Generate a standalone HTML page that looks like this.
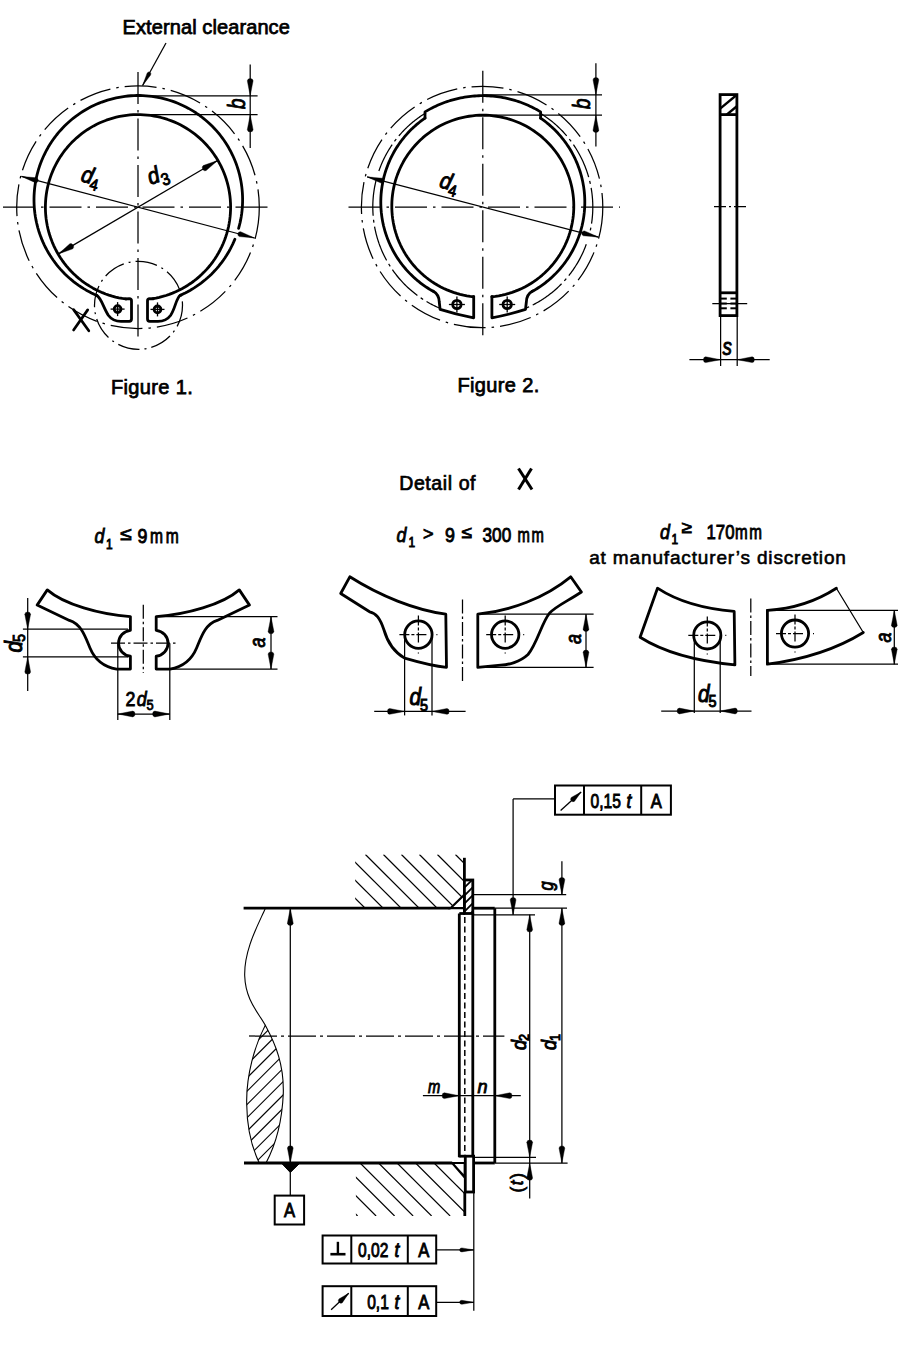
<!DOCTYPE html>
<html><head><meta charset="utf-8"><style>
html,body{margin:0;padding:0;background:#fff;width:919px;height:1350px;overflow:hidden}
svg{display:block}
</style></head><body>
<svg width="919" height="1350" viewBox="0 0 919 1350" stroke="#000" fill="none">
<line x1="3" y1="207.2" x2="272" y2="207.2" stroke-width="1.25" stroke-dasharray="32 6 2.5 6" stroke-linecap="butt"/>
<line x1="138" y1="72" x2="138" y2="337" stroke-width="1.25" stroke-dasharray="32 6 2.5 6" stroke-linecap="butt"/>
<circle cx="138" cy="207.2" r="121.3" stroke-width="1.25" fill="none" stroke-dasharray="32 6 2.5 6"/>
<circle cx="138.5" cy="305.3" r="44" stroke-width="1.25" fill="none" stroke-dasharray="22 5 2 5"/>
<path d="M125.75 298.99 L122.32 298.46 L118.92 297.81 L115.54 297.03 L112.19 296.13 L108.88 295.1 L105.6 293.95 L102.38 292.67 L99.2 291.28 L96.08 289.77 L93.02 288.14 L90.02 286.4 L87.09 284.55 L84.23 282.59 L81.44 280.52 L78.73 278.35 L76.11 276.08 L73.57 273.71 L71.13 271.25 L68.78 268.71 L66.52 266.07 L64.37 263.35 L62.32 260.55 L60.37 257.68 L58.53 254.74 L56.81 251.73 L55.2 248.66 L53.7 245.53 L52.33 242.35 L51.07 239.11 L49.94 235.83 L48.93 232.52 L48.04 229.16 L47.28 225.78 L46.65 222.37 L46.15 218.94 L45.77 215.49 L45.53 212.03 L45.41 208.56 L45.42 205.09 L45.57 201.63 L45.84 198.17 L46.24 194.72 L46.78 191.3 L47.44 187.89 L48.22 184.51 L49.13 181.17 L50.17 177.86 L51.33 174.59 L52.61 171.37 L54.02 168.19 L55.54 165.08 L57.17 162.02 L58.92 159.02 L60.78 156.09 L62.75 153.24 L64.82 150.46 L67 147.76 L69.27 145.14 L71.65 142.61 L74.11 140.17 L76.67 137.82 L79.31 135.58 L82.03 133.43 L84.83 131.38 L87.71 129.45 L90.66 127.62 L93.67 125.9 L96.75 124.3 L99.88 122.81 L103.07 121.44 L106.3 120.19 L109.58 119.07 L112.91 118.07 L116.26 117.19 L119.65 116.44 L123.06 115.81 L126.49 115.32 L129.94 114.95 L133.4 114.71 L136.87 114.61 L140.34 114.63 L143.8 114.78 L147.26 115.06 L150.7 115.48 L154.13 116.02 L157.53 116.68 L160.91 117.48 L164.25 118.4 L167.56 119.45 L170.83 120.61 L174.05 121.9 L177.21 123.31 L180.33 124.84 L183.38 126.48 L186.37 128.24 L189.3 130.11 L192.15 132.08 L194.92 134.16 L197.62 136.35 L200.23 138.63 L202.76 141.01 L205.19 143.48 L207.53 146.04 L209.77 148.69 L211.91 151.42 L213.95 154.22 L215.88 157.1 L217.7 160.06 L219.41 163.07 L221.01 166.15 L222.48 169.29 L223.85 172.48 L225.09 175.72 L226.2 179 L227.2 182.33 L228.07 185.69 L228.81 189.07 L229.42 192.49 L229.91 195.92 L230.27 199.37 L230.5 202.83 L230.6 206.3 L230.56 209.77 L230.4 213.23 L230.11 216.69 L229.69 220.13 L229.14 223.56 L228.47 226.96 L227.66 230.33 L226.73 233.67 L225.68 236.98 L224.5 240.24 L223.21 243.46 L221.79 246.62 L220.25 249.73 L218.6 252.78 L216.84 255.77 L214.96 258.69 L212.98 261.54 L210.9 264.31 L208.71 267 L206.42 269.6 L204.03 272.12 L201.55 274.55 L198.99 276.88 L196.33 279.12 L193.6 281.25 L190.79 283.28 L187.9 285.2 L184.95 287.02 L181.92 288.72 L178.84 290.31 L175.7 291.78 L172.5 293.13 L169.26 294.36 L165.98 295.47 L162.65 296.46 L159.29 297.32 L155.9 298.05 L152.49 298.66" stroke-width="2.8" fill="none" stroke-linejoin="round" stroke-linecap="round"/>
<path d="M96.88 295.52 L94.15 294.3 L91.47 292.99 L88.82 291.61 L86.21 290.16 L83.64 288.63 L81.12 287.03 L78.65 285.36 L76.22 283.62 L73.85 281.8 L71.53 279.92 L69.26 277.98 L67.05 275.97 L64.9 273.9 L62.81 271.77 L60.78 269.58 L58.81 267.33 L56.91 265.03 L55.08 262.67 L53.31 260.26 L51.62 257.8 L49.99 255.3 L48.44 252.75 L46.96 250.15 L45.55 247.52 L44.23 244.84 L42.98 242.13 L41.8 239.38 L40.71 236.6 L39.7 233.79 L38.76 230.96 L37.91 228.09 L37.14 225.21 L36.46 222.3 L35.85 219.38 L35.34 216.44 L34.9 213.48 L34.55 210.52 L34.29 207.54 L34.11 204.56 L34.02 201.57 L34.01 198.59 L34.08 195.6 L34.25 192.62 L34.5 189.64 L34.83 186.68 L35.25 183.72 L35.75 180.78 L36.34 177.85 L37.01 174.94 L37.76 172.05 L38.6 169.18 L39.51 166.34 L40.51 163.52 L41.59 160.74 L42.75 157.99 L43.98 155.27 L45.3 152.59 L46.69 149.94 L48.15 147.34 L49.69 144.78 L51.3 142.27 L52.99 139.8 L54.74 137.38 L56.56 135.01 L58.45 132.7 L60.4 130.44 L62.42 128.24 L64.5 126.1 L66.64 124.01 L68.84 121.99 L71.1 120.04 L73.41 118.15 L75.77 116.32 L78.19 114.57 L80.65 112.88 L83.16 111.26 L85.72 109.72 L88.32 108.25 L90.96 106.86 L93.64 105.54 L96.36 104.3 L99.11 103.14 L101.9 102.06 L104.71 101.06 L107.55 100.14 L110.42 99.3 L113.3 98.54 L116.21 97.87 L119.14 97.27 L122.09 96.77 L125.04 96.35 L128.01 96.01 L130.98 95.76 L133.97 95.59 L136.95 95.51 L139.94 95.51 L142.92 95.6 L145.9 95.78 L148.88 96.04 L151.85 96.38 L154.8 96.81 L157.74 97.33 L160.67 97.93 L163.58 98.61 L166.46 99.37 L169.33 100.22 L172.17 101.15 L174.98 102.16 L177.76 103.25 L180.5 104.42 L183.22 105.67 L185.89 106.99 L188.53 108.39 L191.13 109.87 L193.68 111.42 L196.19 113.04 L198.65 114.73 L201.06 116.5 L203.42 118.33 L205.73 120.22 L207.98 122.19 L210.17 124.21 L212.3 126.3 L214.38 128.45 L216.39 130.66 L218.34 132.92 L220.22 135.24 L222.03 137.61 L223.78 140.04 L225.46 142.51 L227.06 145.03 L228.59 147.59 L230.05 150.2 L231.43 152.84 L232.74 155.53 L233.97 158.25 L235.12 161.01 L236.19 163.8 L237.18 166.61 L238.09 169.46 L238.92 172.33 L239.66 175.22 L240.32 178.13 L240.9 181.06 L241.4 184.01 L241.81 186.96 L242.13 189.93 L242.37 192.91 L242.53 195.89 L242.6 198.88 L242.58 201.86 L242.48 204.85 L242.29 207.83 L242.02 210.8 L241.66 213.77 L241.22 216.72 L240.69 219.66 L240.08 222.59 L239.39 225.49 L238.61 228.37" stroke-width="2.8" fill="none" stroke-linejoin="round" stroke-linecap="round"/>
<path d="M234.87 239.21 L233.83 241.67 L232.73 244.1 L231.56 246.5 L230.34 248.87 L229.05 251.21 L227.7 253.51 L226.3 255.78 L224.84 258.02 L223.32 260.21 L221.75 262.37 L220.12 264.48 L218.44 266.56 L216.7 268.59 L214.92 270.57 L213.08 272.51 L211.2 274.4 L209.26 276.24 L207.28 278.03 L205.26 279.77 L203.19 281.45 L201.08 283.09 L198.93 284.67 L196.74 286.19 L194.51 287.66 L192.24 289.07 L189.94 290.42 L187.6 291.71 L185.24 292.94 L182.84 294.11 L180.41 295.22" stroke-width="2.8" fill="none" stroke-linejoin="round" stroke-linecap="round"/>
<path d="M96.9 295.5 C101.6 298.5, 103.5 308, 108.5 315.5 C111.5 319.6, 115 321.3, 121 321.3 L129.3 321.3 Q131.5 321.3 131.5 319.1 L131.5 300.8 Q131.5 298.6 129.3 298.6 L125.8 298.8" stroke-width="2.8" fill="none" stroke-linejoin="round" stroke-linecap="round"/>
<path d="M180.4 295.2 C176 298.3, 175.5 308, 170.5 315.5 C167.5 319.6, 164 321.3, 158 321.3 L149.7 321.3 Q147.5 321.3 147.5 319.1 L147.5 300.8 Q147.5 298.6 149.7 298.6 L153.2 298.8" stroke-width="2.8" fill="none" stroke-linejoin="round" stroke-linecap="round"/>
<circle cx="117.6" cy="309.1" r="3.4" stroke-width="2.8" fill="none"/>
<line x1="110.6" y1="309.1" x2="124.6" y2="309.1" stroke-width="1.3" stroke-linecap="butt"/>
<line x1="117.6" y1="302.1" x2="117.6" y2="316.1" stroke-width="1.3" stroke-linecap="butt"/>
<circle cx="157.5" cy="309.4" r="3.4" stroke-width="2.8" fill="none"/>
<line x1="150.5" y1="309.4" x2="164.5" y2="309.4" stroke-width="1.3" stroke-linecap="butt"/>
<line x1="157.5" y1="302.4" x2="157.5" y2="316.4" stroke-width="1.3" stroke-linecap="butt"/>
<line x1="73.6" y1="309.6" x2="88.8" y2="330.8" stroke-width="2.7" stroke-linecap="round"/>
<line x1="87.7" y1="309.9" x2="73.6" y2="330" stroke-width="2.7" stroke-linecap="round"/>
<line x1="217.61" y1="160.49" x2="58.39" y2="253.91" stroke-width="1.25" stroke-linecap="butt"/>
<path d="M217.61 160.49 L206.14 170.58 Q204.1 171.45 202.77 169.2 Q201.45 166.95 203.2 165.58 Z" fill="#000" stroke="#000" stroke-width="0.4" stroke-linejoin="round"/>
<path d="M58.39 253.91 L69.86 243.82 Q71.9 242.95 73.23 245.2 Q74.55 247.45 72.8 248.82 Z" fill="#000" stroke="#000" stroke-width="0.4" stroke-linejoin="round"/>
<line x1="254.5" y1="237.98" x2="21.5" y2="176.42" stroke-width="1.25" stroke-linecap="butt"/>
<path d="M254.5 237.98 L239.36 236.57 Q237.3 235.76 237.87 233.59 Q238.45 231.41 240.64 231.73 Z" fill="#000" stroke="#000" stroke-width="0.4" stroke-linejoin="round"/>
<path d="M21.5 176.42 L36.64 177.83 Q38.7 178.64 38.13 180.81 Q37.55 182.99 35.36 182.67 Z" fill="#000" stroke="#000" stroke-width="0.4" stroke-linejoin="round"/>
<line x1="138" y1="95.8" x2="257.6" y2="95.8" stroke-width="1.25" stroke-linecap="butt"/>
<line x1="138" y1="114.7" x2="257.6" y2="114.7" stroke-width="1.25" stroke-linecap="butt"/>
<line x1="250.2" y1="64.4" x2="250.2" y2="148" stroke-width="1.25" stroke-linecap="butt"/>
<path d="M250.2 95.8 L247.3 80.8 Q247.59 78.6 250.2 78.6 Q252.81 78.6 253.1 80.8 Z" fill="#000" stroke="#000" stroke-width="0.4" stroke-linejoin="round"/>
<path d="M250.2 114.7 L253.1 129.7 Q252.81 131.9 250.2 131.9 Q247.59 131.9 247.3 129.7 Z" fill="#000" stroke="#000" stroke-width="0.4" stroke-linejoin="round"/>
<line x1="166" y1="43" x2="142.6" y2="85.5" stroke-width="1.25" stroke-linecap="butt"/>
<path d="M142.6 85.5 L147.12 73.15 Q148.35 71.32 149.93 72.18 Q151.51 73.05 150.62 75.08 Z" fill="#000" stroke="#000" stroke-width="0.4" stroke-linejoin="round"/>
<text transform="translate(122.5 33.8)" font-family="Liberation Sans" font-size="20" font-style="normal" font-weight="normal" text-anchor="start" letter-spacing="0.1" fill="#000" stroke="#000" stroke-width="0.75">External clearance</text>
<text transform="translate(111 393.5)" font-family="Liberation Sans" font-size="20" font-style="normal" font-weight="normal" text-anchor="start" letter-spacing="0.35" fill="#000" stroke="#000" stroke-width="0.75">Figure 1.</text>
<text transform="translate(80 181) rotate(15) scale(0.9 1)" font-family="Liberation Sans" fill="#000" stroke="#000" stroke-width="1.0"><tspan font-size="23" font-style="italic">d</tspan><tspan font-size="16" dx="-1.0" dy="5.5">4</tspan></text>
<text transform="translate(150.5 185) rotate(-20) scale(0.9 1)" font-family="Liberation Sans" fill="#000" stroke="#000" stroke-width="1.0"><tspan font-size="23" font-style="italic">d</tspan><tspan font-size="17" dx="0.5" dy="5.5">3</tspan></text>
<text transform="translate(244.5 109) rotate(-90) scale(0.82 1)" font-family="Liberation Sans" font-size="23" font-style="italic" fill="#000" stroke="#000" stroke-width="0.9">b</text>
<line x1="348.5" y1="207" x2="620" y2="207" stroke-width="1.25" stroke-dasharray="32 6 2.5 6" stroke-linecap="butt"/>
<line x1="482.8" y1="70.7" x2="482.8" y2="340" stroke-width="1.25" stroke-dasharray="32 6 2.5 6" stroke-linecap="butt"/>
<circle cx="482.1" cy="207" r="120.7" stroke-width="1.25" fill="none" stroke-dasharray="32 6 2.5 6"/>
<path d="M473.69 296.74 L470.25 296.33 L466.83 295.79 L463.44 295.12 L460.08 294.32 L456.74 293.39 L453.45 292.34 L450.2 291.16 L446.99 289.86 L443.84 288.44 L440.74 286.9 L437.7 285.24 L434.73 283.47 L431.83 281.59 L429 279.59 L426.25 277.5 L423.58 275.3 L421 272.99 L418.5 270.6 L416.1 268.11 L413.8 265.53 L411.59 262.86 L409.49 260.11 L407.49 257.29 L405.61 254.39 L403.83 251.42 L402.17 248.39 L400.62 245.29 L399.2 242.14 L397.89 238.94 L396.71 235.69 L395.65 232.39 L394.72 229.06 L393.91 225.7 L393.24 222.31 L392.69 218.89 L392.27 215.46 L391.99 212.01 L391.83 208.55 L391.81 205.09 L391.91 201.64 L392.15 198.19 L392.52 194.75 L393.02 191.32 L393.65 187.92 L394.41 184.55 L395.3 181.2 L396.31 177.9 L397.45 174.63 L398.71 171.41 L400.1 168.24 L401.6 165.12 L403.22 162.07 L404.95 159.07 L406.8 156.15 L408.76 153.3 L410.82 150.52 L412.99 147.82 L415.26 145.21 L417.63 142.69 L420.09 140.26 L422.64 137.92 L425.28 135.69 L428 133.55 L430.8 131.52 L433.68 129.6 L436.62 127.79 L439.64 126.09 L442.71 124.51 L445.85 123.04 L449.03 121.7 L452.27 120.47 L455.55 119.38 L458.87 118.4 L462.22 117.56 L465.61 116.84 L469.02 116.25 L472.44 115.79 L475.89 115.46 L479.34 115.27 L482.8 115.2 L486.26 115.27 L489.71 115.46 L493.16 115.79 L496.58 116.25 L499.99 116.84 L503.38 117.56 L506.73 118.4 L510.05 119.38 L513.33 120.47 L516.57 121.7 L519.75 123.04 L522.89 124.51 L525.96 126.09 L528.98 127.79 L531.92 129.6 L534.8 131.52 L537.6 133.55 L540.32 135.69 L542.96 137.92 L545.51 140.26 L547.97 142.69 L550.34 145.21 L552.61 147.82 L554.78 150.52 L556.84 153.3 L558.8 156.15 L560.65 159.07 L562.38 162.07 L564 165.12 L565.5 168.24 L566.89 171.41 L568.15 174.63 L569.29 177.9 L570.3 181.2 L571.19 184.55 L571.95 187.92 L572.58 191.32 L573.08 194.75 L573.45 198.19 L573.69 201.64 L573.79 205.09 L573.77 208.55 L573.61 212.01 L573.33 215.46 L572.91 218.89 L572.36 222.31 L571.69 225.7 L570.88 229.06 L569.95 232.39 L568.89 235.69 L567.71 238.94 L566.4 242.14 L564.98 245.29 L563.43 248.39 L561.77 251.42 L559.99 254.39 L558.11 257.29 L556.11 260.11 L554.01 262.86 L551.8 265.53 L549.5 268.11 L547.1 270.6 L544.6 272.99 L542.02 275.3 L539.35 277.5 L536.6 279.59 L533.77 281.59 L530.87 283.47 L527.9 285.24 L524.86 286.9 L521.76 288.44 L518.61 289.86 L515.4 291.16 L512.15 292.34 L508.86 293.39 L505.52 294.32 L502.16 295.12 L498.77 295.79 L495.35 296.33 L491.91 296.74" stroke-width="2.8" fill="none" stroke-linejoin="round" stroke-linecap="round"/>
<path d="M425 118.16 L425 111.89 L426.74 110.85 L428.5 109.84 L430.28 108.87 L432.07 107.93 L433.88 107.03 L435.71 106.15 L437.55 105.31 L439.41 104.5 L441.29 103.73 L443.17 102.99 L445.07 102.29 L446.98 101.62 L448.91 100.99 L450.84 100.39 L452.79 99.82 L454.74 99.29 L456.71 98.8 L458.68 98.34 L460.66 97.92 L462.65 97.54 L464.65 97.19 L466.65 96.88 L468.66 96.6 L470.67 96.36 L472.68 96.16 L474.7 95.99 L476.73 95.87 L478.75 95.77 L480.77 95.72 L482.8 95.7 L484.83 95.72 L486.85 95.77 L488.87 95.87 L490.9 95.99 L492.92 96.16 L494.93 96.36 L496.94 96.6 L498.95 96.88 L500.95 97.19 L502.95 97.54 L504.94 97.92 L506.92 98.34 L508.89 98.8 L510.86 99.29 L512.81 99.82 L514.76 100.39 L516.69 100.99 L518.62 101.62 L520.53 102.29 L522.43 102.99 L524.31 103.73 L526.19 104.5 L528.05 105.31 L529.89 106.15 L531.72 107.03 L533.53 107.93 L535.32 108.87 L537.1 109.84 L538.86 110.85 L540.6 111.89 L540.6 118.16" stroke-width="2.8" fill="none" stroke-linejoin="round" stroke-linecap="round"/>
<path d="M425 118.16 L423.59 119.15 L422.19 120.16 L420.81 121.2 L419.45 122.26 L418.1 123.35 L416.78 124.45 L415.47 125.58 L414.18 126.73 L412.91 127.9 L411.67 129.1 L410.44 130.31 L409.23 131.55 L408.05 132.8 L406.88 134.08 L405.74 135.37 L404.62 136.69 L403.52 138.02 L402.45 139.37 L401.39 140.74 L400.37 142.13 L399.36 143.53 L398.38 144.95 L397.42 146.39 L396.49 147.84 L395.58 149.31 L394.7 150.8 L393.84 152.3 L393.01 153.81 L392.2 155.34 L391.42 156.88 L390.67 158.43 L389.94 160 L389.24 161.57 L388.57 163.16 L387.92 164.76 L387.3 166.38 L386.71 168 L386.14 169.63 L385.6 171.27 L385.09 172.92 L384.61 174.58 L384.16 176.24 L383.73 177.92 L383.34 179.6 L382.97 181.29 L382.63 182.98 L382.32 184.68 L382.03 186.38 L381.78 188.09 L381.56 189.8 L381.36 191.52 L381.19 193.24 L381.06 194.96 L380.95 196.68 L380.87 198.41 L380.82 200.13 L380.8 201.86 L380.81 203.59 L380.85 205.31 L380.91 207.04 L381.01 208.76 L381.14 210.48 L381.29 212.2 L381.48 213.92 L381.69 215.63 L381.93 217.34 L382.2 219.05 L382.5 220.75 L382.83 222.44 L383.19 224.13 L383.57 225.82 L383.99 227.49 L384.43 229.16 L384.9 230.82 L385.4 232.48 L385.92 234.12 L386.48 235.76 L387.06 237.38 L387.67 239 L388.31 240.6 L388.97 242.2 L389.66 243.78 L390.38 245.35 L391.12 246.91 L391.89 248.46 L392.69 249.99 L393.51 251.51 L394.36 253.01 L395.23 254.5 L396.13 255.98 L397.05 257.44 L398 258.88 L398.97 260.31 L399.97 261.72 L400.98 263.11 L402.03 264.49 L403.09 265.85 L404.18 267.19 L405.29 268.51 L406.43 269.81 L407.58 271.09 L408.76 272.36 L409.96 273.6 L411.18 274.82 L412.42 276.03 L413.68 277.21 L414.96 278.37 L416.26 279.5 L417.57 280.62 L418.91 281.71 L420.27 282.78 L421.64 283.83 L423.03 284.85 L424.44 285.85 L425.86 286.83 L427.3 287.78 L428.76 288.71 L430.23 289.61 L431.72 290.49 L433.22 291.34" stroke-width="2.8" fill="none" stroke-linejoin="round" stroke-linecap="round"/>
<path d="M540.6 118.16 L542.01 119.15 L543.41 120.16 L544.79 121.2 L546.15 122.26 L547.5 123.35 L548.82 124.45 L550.13 125.58 L551.42 126.73 L552.69 127.9 L553.93 129.1 L555.16 130.31 L556.37 131.55 L557.55 132.8 L558.72 134.08 L559.86 135.37 L560.98 136.69 L562.08 138.02 L563.15 139.37 L564.21 140.74 L565.23 142.13 L566.24 143.53 L567.22 144.95 L568.18 146.39 L569.11 147.84 L570.02 149.31 L570.9 150.8 L571.76 152.3 L572.59 153.81 L573.4 155.34 L574.18 156.88 L574.93 158.43 L575.66 160 L576.36 161.57 L577.03 163.16 L577.68 164.76 L578.3 166.38 L578.89 168 L579.46 169.63 L580 171.27 L580.51 172.92 L580.99 174.58 L581.44 176.24 L581.87 177.92 L582.26 179.6 L582.63 181.29 L582.97 182.98 L583.28 184.68 L583.57 186.38 L583.82 188.09 L584.04 189.8 L584.24 191.52 L584.41 193.24 L584.54 194.96 L584.65 196.68 L584.73 198.41 L584.78 200.13 L584.8 201.86 L584.79 203.59 L584.75 205.31 L584.69 207.04 L584.59 208.76 L584.46 210.48 L584.31 212.2 L584.12 213.92 L583.91 215.63 L583.67 217.34 L583.4 219.05 L583.1 220.75 L582.77 222.44 L582.41 224.13 L582.03 225.82 L581.61 227.49 L581.17 229.16 L580.7 230.82 L580.2 232.48 L579.68 234.12 L579.12 235.76 L578.54 237.38 L577.93 239 L577.29 240.6 L576.63 242.2 L575.94 243.78 L575.22 245.35 L574.48 246.91 L573.71 248.46 L572.91 249.99 L572.09 251.51 L571.24 253.01 L570.37 254.5 L569.47 255.98 L568.55 257.44 L567.6 258.88 L566.63 260.31 L565.63 261.72 L564.62 263.11 L563.57 264.49 L562.51 265.85 L561.42 267.19 L560.31 268.51 L559.17 269.81 L558.02 271.09 L556.84 272.36 L555.64 273.6 L554.42 274.82 L553.18 276.03 L551.92 277.21 L550.64 278.37 L549.34 279.5 L548.03 280.62 L546.69 281.71 L545.33 282.78 L543.96 283.83 L542.57 284.85 L541.16 285.85 L539.74 286.83 L538.3 287.78 L536.84 288.71 L535.37 289.61 L533.88 290.49 L532.38 291.34" stroke-width="2.8" fill="none" stroke-linejoin="round" stroke-linecap="round"/>
<path d="M426.15 112.71 L425.33 113.21 L424.51 113.71 L423.7 114.22 L422.9 114.74 L422.1 115.27 L421.3 115.8 L420.51 116.34 L419.72 116.88 L418.94 117.43 L418.16 117.99 L417.39 118.56 L416.62 119.13 L415.86 119.71 L415.1 120.3 L414.35 120.89 L413.6 121.49 L412.86 122.1 L412.13 122.71 L411.4 123.33 L410.67 123.95 L409.95 124.58 L409.23 125.22 L408.53 125.86 L407.82 126.51 L407.12 127.17 L406.43 127.83 L405.75 128.5 L405.07 129.17 L404.39 129.85 L403.72 130.54 L403.06 131.23 L402.4 131.92 L401.75 132.63 L401.11 133.34 L400.47 134.05 L399.84 134.77 L399.21 135.49 L398.59 136.22 L397.98 136.96 L397.37 137.7 L396.77 138.45 L396.18 139.2 L395.59 139.95 L395.01 140.72 L394.44 141.48 L393.87 142.25 L393.31 143.03 L392.76 143.81 L392.21 144.6 L391.67 145.39 L391.14 146.18 L390.61 146.99 L390.1 147.79 L389.58 148.6 L389.08 149.41 L388.58 150.23 L388.09 151.05 L387.61 151.88 L387.13 152.71 L386.66 153.55 L386.2 154.38 L385.75 155.23 L385.3 156.07 L384.86 156.92 L384.43 157.78 L384 158.64 L383.58 159.5 L383.18 160.36 L382.77 161.23 L382.38 162.11 L381.99 162.98 L381.61 163.86 L381.24 164.74 L380.88 165.63 L380.52 166.52 L380.17 167.41 L379.83 168.3 L379.5 169.2 L379.17 170.1 L378.86 171.01" stroke-width="1.25" fill="none" stroke-dasharray="36 4 3 4" stroke-linejoin="round" stroke-linecap="butt"/>
<path d="M376.16 180.02 L375.7 181.92 L375.27 183.83 L374.87 185.75 L374.51 187.67 L374.18 189.6 L373.89 191.54 L373.63 193.48 L373.41 195.43 L373.22 197.37 L373.07 199.33 L372.95 201.28 L372.86 203.24 L372.81 205.2 L372.8 207.15 L372.82 209.11 L372.88 211.07 L372.97 213.03 L373.09 214.98 L373.25 216.93 L373.44 218.88 L373.67 220.82 L373.94 222.77 L374.23 224.7 L374.57 226.63 L374.93 228.55 L375.33 230.47 L375.77 232.38 L376.24 234.28 L376.74 236.17 L377.28 238.06 L377.85 239.93 L378.45 241.79 L379.08 243.65 L379.75 245.49 L380.45 247.32 L381.19 249.13 L381.95 250.93 L382.75 252.72 L383.58 254.49 L384.44 256.25 L385.34 258 L386.26 259.72 L387.21 261.43 L388.2 263.13 L389.21 264.8 L390.25 266.46 L391.33 268.1 L392.43 269.72 L393.56 271.31 L394.72 272.89 L395.91 274.45 L397.12 275.99 L398.36 277.5 L399.63 278.99 L400.93 280.46 L402.25 281.91 L403.59 283.33 L404.96 284.73 L406.36 286.1 L407.78 287.45 L409.22 288.77 L410.69 290.07 L412.18 291.34 L413.69 292.58 L415.23 293.8 L416.78 294.99 L418.36 296.15 L419.96 297.28 L421.58 298.39 L423.21 299.46 L424.87 300.51 L426.54 301.52 L428.23 302.51 L429.94 303.47 L431.67 304.39 L433.41 305.29 L435.17 306.15 L436.94 306.98 L438.73 307.78 L440.53 308.55" stroke-width="1.25" fill="none" stroke-dasharray="36 4 3 4" stroke-linejoin="round" stroke-linecap="butt"/>
<path d="M539.45 112.71 L540.91 113.6 L542.36 114.52 L543.79 115.46 L545.21 116.42 L546.61 117.4 L547.99 118.4 L549.37 119.43 L550.72 120.47 L552.06 121.54 L553.38 122.63 L554.68 123.74 L555.97 124.86 L557.24 126.01 L558.49 127.18 L559.72 128.37 L560.93 129.57 L562.13 130.8 L563.3 132.04 L564.46 133.3 L565.6 134.58 L566.71 135.88 L567.81 137.19 L568.89 138.52 L569.94 139.87 L570.97 141.23 L571.99 142.61 L572.98 144.01 L573.95 145.42 L574.89 146.84 L575.82 148.28 L576.72 149.74 L577.6 151.2 L578.46 152.69 L579.29 154.18 L580.1 155.69 L580.88 157.21 L581.65 158.74 L582.39 160.28 L583.1 161.84 L583.79 163.4 L584.46 164.98 L585.1 166.56 L585.71 168.16 L586.31 169.77 L586.87 171.38 L587.41 173 L587.93 174.63 L588.42 176.27 L588.89 177.92 L589.33 179.57 L589.74 181.23 L590.13 182.9 L590.49 184.57 L590.83 186.25 L591.14 187.93 L591.42 189.62 L591.68 191.31 L591.91 193.01 L592.11 194.71 L592.29 196.41 L592.44 198.11 L592.57 199.82 L592.66 201.53 L592.74 203.24 L592.78 204.95 L592.8 206.66 L592.79 208.37 L592.76 210.08 L592.7 211.79 L592.61 213.5 L592.49 215.21 L592.35 216.91 L592.19 218.62 L591.99 220.32 L591.77 222.01 L591.52 223.71 L591.25 225.39 L590.95 227.08 L590.63 228.76 L590.28 230.43" stroke-width="1.25" fill="none" stroke-dasharray="36 4 3 4" stroke-linejoin="round" stroke-linecap="butt"/>
<path d="M586.3 244.26 L585.9 245.33 L585.5 246.4 L585.09 247.47 L584.66 248.53 L584.22 249.58 L583.78 250.63 L583.32 251.68 L582.85 252.72 L582.37 253.76 L581.88 254.79 L581.38 255.82 L580.86 256.84 L580.34 257.85 L579.81 258.86 L579.26 259.87 L578.71 260.87 L578.14 261.86 L577.57 262.85 L576.98 263.83 L576.39 264.8 L575.78 265.77 L575.17 266.73 L574.54 267.69 L573.91 268.64 L573.26 269.58 L572.61 270.52 L571.94 271.45 L571.27 272.37 L570.59 273.28 L569.89 274.19 L569.19 275.09 L568.48 275.99 L567.76 276.87 L567.03 277.75 L566.29 278.62 L565.54 279.48 L564.78 280.34 L564.02 281.19 L563.24 282.03 L562.46 282.86 L561.67 283.68 L560.87 284.5 L560.06 285.3 L559.24 286.1 L558.41 286.89 L557.58 287.67 L556.74 288.44 L555.89 289.21 L555.03 289.96 L554.17 290.71 L553.29 291.44 L552.41 292.17 L551.52 292.89 L550.63 293.6 L549.73 294.3 L548.82 294.99 L547.9 295.67 L546.97 296.34 L546.04 297 L545.1 297.65 L544.16 298.3 L543.21 298.93 L542.25 299.55 L541.29 300.16 L540.32 300.77 L539.34 301.36 L538.36 301.94 L537.37 302.51 L536.37 303.07 L535.37 303.62 L534.37 304.16 L533.35 304.7 L532.34 305.21 L531.31 305.72 L530.29 306.22 L529.25 306.71 L528.22 307.19 L527.17 307.65 L526.12 308.11 L525.07 308.55" stroke-width="1.25" fill="none" stroke-dasharray="36 4 3 4" stroke-linejoin="round" stroke-linecap="butt"/>
<path d="M433.3 291.2 C436.8 293.15, 439 297, 439.2 301.5 L440.1 309.4 Q456 314.5 473.7 317.8 L473.7 296.6" stroke-width="2.8" fill="none" stroke-linejoin="round" stroke-linecap="round"/>
<g transform="translate(965.6 0) scale(-1 1)">
<path d="M433.3 291.2 C436.8 293.15, 439 297, 439.2 301.5 L440.1 309.4 Q456 314.5 473.7 317.8 L473.7 296.6" stroke-width="2.8" fill="none" stroke-linejoin="round" stroke-linecap="round"/>
</g>
<circle cx="456.9" cy="304.5" r="4.2" stroke-width="2.8" fill="none"/>
<line x1="448.9" y1="304.5" x2="464.9" y2="304.5" stroke-width="1.3" stroke-linecap="butt"/>
<line x1="456.9" y1="296.5" x2="456.9" y2="312.5" stroke-width="1.3" stroke-linecap="butt"/>
<circle cx="507.2" cy="304.5" r="4.2" stroke-width="2.8" fill="none"/>
<line x1="499.2" y1="304.5" x2="515.2" y2="304.5" stroke-width="1.3" stroke-linecap="butt"/>
<line x1="507.2" y1="296.5" x2="507.2" y2="312.5" stroke-width="1.3" stroke-linecap="butt"/>
<line x1="598.44" y1="237.12" x2="367.16" y2="176.88" stroke-width="1.25" stroke-linecap="butt"/>
<path d="M598.44 237.12 L583.3 235.76 Q581.23 234.96 581.8 232.79 Q582.36 230.61 584.56 230.92 Z" fill="#000" stroke="#000" stroke-width="0.4" stroke-linejoin="round"/>
<path d="M367.16 176.88 L382.3 178.24 Q384.37 179.04 383.8 181.21 Q383.24 183.39 381.04 183.08 Z" fill="#000" stroke="#000" stroke-width="0.4" stroke-linejoin="round"/>
<text transform="translate(438.5 187) rotate(15) scale(0.9 1)" font-family="Liberation Sans" fill="#000" stroke="#000" stroke-width="1.0"><tspan font-size="23" font-style="italic">d</tspan><tspan font-size="16" dx="-1.0" dy="5.5">4</tspan></text>
<line x1="482.8" y1="94.8" x2="602" y2="94.8" stroke-width="1.25" stroke-linecap="butt"/>
<line x1="482.8" y1="115.2" x2="602" y2="115.2" stroke-width="1.25" stroke-linecap="butt"/>
<line x1="595.9" y1="63.3" x2="595.9" y2="146.5" stroke-width="1.25" stroke-linecap="butt"/>
<path d="M595.9 94.8 L593 79.8 Q593.29 77.6 595.9 77.6 Q598.51 77.6 598.8 79.8 Z" fill="#000" stroke="#000" stroke-width="0.4" stroke-linejoin="round"/>
<path d="M595.9 115.2 L598.8 130.2 Q598.51 132.4 595.9 132.4 Q593.29 132.4 593 130.2 Z" fill="#000" stroke="#000" stroke-width="0.4" stroke-linejoin="round"/>
<text transform="translate(589.5 109) rotate(-90) scale(0.82 1)" font-family="Liberation Sans" font-size="23" font-style="italic" fill="#000" stroke="#000" stroke-width="0.9">b</text>
<text transform="translate(457.5 391.5)" font-family="Liberation Sans" font-size="20" font-style="normal" font-weight="normal" text-anchor="start" letter-spacing="0.35" fill="#000" stroke="#000" stroke-width="0.75">Figure 2.</text>
<rect x="720.1" y="94.6" width="16.8" height="221" stroke-width="2.8" fill="none"/>
<line x1="720.1" y1="114.6" x2="736.9" y2="114.6" stroke-width="2.8" stroke-linecap="butt"/>
<line x1="720.1" y1="292.8" x2="736.9" y2="292.8" stroke-width="2.8" stroke-linecap="butt"/>
<clipPath id="cpS"><rect x="720.1" y="94.6" width="16.8" height="20"/></clipPath>
<g clip-path="url(#cpS)">
<line x1="715.8" y1="112.3" x2="739.8" y2="92.3" stroke-width="2.4" stroke-linecap="butt"/>
<line x1="720.3" y1="120" x2="744.3" y2="100" stroke-width="2.4" stroke-linecap="butt"/>
</g>
<line x1="720.1" y1="298.6" x2="726.8" y2="298.6" stroke-width="2.0" stroke-linecap="butt"/>
<line x1="730.4" y1="298.6" x2="736.9" y2="298.6" stroke-width="2.0" stroke-linecap="butt"/>
<line x1="720.1" y1="303.5" x2="726.8" y2="303.5" stroke-width="2.0" stroke-linecap="butt"/>
<line x1="730.4" y1="303.5" x2="736.9" y2="303.5" stroke-width="2.0" stroke-linecap="butt"/>
<line x1="720.1" y1="308.3" x2="726.8" y2="308.3" stroke-width="2.0" stroke-linecap="butt"/>
<line x1="730.4" y1="308.3" x2="736.9" y2="308.3" stroke-width="2.0" stroke-linecap="butt"/>
<line x1="714" y1="206.6" x2="746" y2="206.6" stroke-width="1.25" stroke-dasharray="12 3 2 3" stroke-linecap="butt"/>
<line x1="712.3" y1="303.5" x2="747.2" y2="303.5" stroke-width="1.25" stroke-linecap="butt"/>
<line x1="720.6" y1="315.6" x2="720.6" y2="366" stroke-width="1.25" stroke-linecap="butt"/>
<line x1="737.2" y1="315.6" x2="737.2" y2="366" stroke-width="1.25" stroke-linecap="butt"/>
<line x1="689.4" y1="359.7" x2="769.7" y2="359.7" stroke-width="1.25" stroke-linecap="butt"/>
<path d="M720.6 359.7 L705.6 362.6 Q703.4 362.31 703.4 359.7 Q703.4 357.09 705.6 356.8 Z" fill="#000" stroke="#000" stroke-width="0.4" stroke-linejoin="round"/>
<path d="M737.2 359.7 L752.2 356.8 Q754.4 357.09 754.4 359.7 Q754.4 362.31 752.2 362.6 Z" fill="#000" stroke="#000" stroke-width="0.4" stroke-linejoin="round"/>
<text transform="translate(722.5 354.5) scale(0.82 1)" font-family="Liberation Sans" font-size="23" font-style="italic" fill="#000" stroke="#000" stroke-width="0.9">s</text>
<text transform="translate(399.2 490.1)" font-family="Liberation Sans" font-size="19.5" font-style="normal" font-weight="normal" text-anchor="start" letter-spacing="0.6" fill="#000" stroke="#000" stroke-width="0.7">Detail of</text>
<line x1="518.5" y1="468.5" x2="532" y2="489.5" stroke-width="3.0" stroke-linecap="butt"/>
<line x1="531.5" y1="468.5" x2="518.5" y2="489.5" stroke-width="3.0" stroke-linecap="butt"/>
<path d="M47.3 589.9 C64 604.5, 100 614.5, 130.4 616.6 L130.4 630.3 A13 13 0 0 0 130.4 656.2 L130.4 669.1 L116.6 669.1 C104 667, 95 660, 90 648 C85 636, 81 624, 69.4 620.4 L37.1 605.1 Z" stroke-width="2.8" fill="none" stroke-linejoin="round" stroke-linecap="round"/>
<g transform="translate(286.6 0) scale(-1 1)">
<path d="M47.3 589.9 C64 604.5, 100 614.5, 130.4 616.6 L130.4 630.3 A13 13 0 0 0 130.4 656.2 L130.4 669.1 L116.6 669.1 C104 667, 95 660, 90 648 C85 636, 81 624, 69.4 620.4 L37.1 605.1 Z" stroke-width="2.8" fill="none" stroke-linejoin="round" stroke-linecap="round"/>
</g>
<line x1="143.3" y1="604.7" x2="143.3" y2="673" stroke-width="1.25" stroke-dasharray="14 3 2.5 3" stroke-linecap="butt"/>
<line x1="111" y1="643.2" x2="178" y2="643.2" stroke-width="1.25" stroke-dasharray="14 3 2.5 3" stroke-linecap="butt"/>
<line x1="22.9" y1="629.2" x2="128" y2="629.2" stroke-width="1.25" stroke-linecap="butt"/>
<line x1="22.9" y1="656.9" x2="128" y2="656.9" stroke-width="1.25" stroke-linecap="butt"/>
<line x1="27.7" y1="598" x2="27.7" y2="691" stroke-width="1.25" stroke-linecap="butt"/>
<path d="M27.7 629.2 L24.8 614.2 Q25.09 612 27.7 612 Q30.31 612 30.6 614.2 Z" fill="#000" stroke="#000" stroke-width="0.4" stroke-linejoin="round"/>
<path d="M27.7 656.9 L30.6 671.9 Q30.31 674.1 27.7 674.1 Q25.09 674.1 24.8 671.9 Z" fill="#000" stroke="#000" stroke-width="0.4" stroke-linejoin="round"/>
<text transform="translate(22 652.5) rotate(-90) scale(0.9 1)" font-family="Liberation Sans" fill="#000" stroke="#000" stroke-width="1.0"><tspan font-size="23" font-style="italic">d</tspan><tspan font-size="16" dx="-1.0" dy="3">5</tspan></text>
<line x1="156" y1="616.6" x2="277.5" y2="616.6" stroke-width="1.25" stroke-linecap="butt"/>
<line x1="156" y1="669.1" x2="277.5" y2="669.1" stroke-width="1.25" stroke-linecap="butt"/>
<line x1="271" y1="616.6" x2="271" y2="669.1" stroke-width="1.25" stroke-linecap="butt"/>
<path d="M271 616.6 L273.9 631.6 Q273.61 633.8 271 633.8 Q268.39 633.8 268.1 631.6 Z" fill="#000" stroke="#000" stroke-width="0.4" stroke-linejoin="round"/>
<path d="M271 669.1 L268.1 654.1 Q268.39 651.9 271 651.9 Q273.61 651.9 273.9 654.1 Z" fill="#000" stroke="#000" stroke-width="0.4" stroke-linejoin="round"/>
<text transform="translate(264.5 647.5) rotate(-90) scale(0.82 1)" font-family="Liberation Sans" font-size="22" font-style="italic" fill="#000" stroke="#000" stroke-width="0.9">a</text>
<line x1="117.8" y1="643.2" x2="117.8" y2="720" stroke-width="1.25" stroke-linecap="butt"/>
<line x1="169.8" y1="643.2" x2="169.8" y2="720" stroke-width="1.25" stroke-linecap="butt"/>
<line x1="117.8" y1="714" x2="169.8" y2="714" stroke-width="1.25" stroke-linecap="butt"/>
<path d="M117.8 714 L132.8 711.1 Q135 711.39 135 714 Q135 716.61 132.8 716.9 Z" fill="#000" stroke="#000" stroke-width="0.4" stroke-linejoin="round"/>
<path d="M169.8 714 L154.8 716.9 Q152.6 716.61 152.6 714 Q152.6 711.39 154.8 711.1 Z" fill="#000" stroke="#000" stroke-width="0.4" stroke-linejoin="round"/>
<text transform="translate(125.5 706.4) scale(0.85 1)" font-family="Liberation Sans" fill="#000" stroke="#000" stroke-width="0.9"><tspan font-size="21" font-style="normal" dy="0" dx="0">2</tspan><tspan font-size="21" font-style="italic" dy="0" dx="1.5">d</tspan><tspan font-size="15" font-style="normal" dy="3.5" dx="0">5</tspan></text>
<text transform="translate(94.5 543.4) scale(0.85 1)" font-family="Liberation Sans" font-size="21" font-style="italic" fill="#000" stroke="#000" stroke-width="0.9">d</text>
<text transform="translate(106 548.5) scale(0.85 1)" font-family="Liberation Sans" font-size="14" font-style="normal" fill="#000" stroke="#000" stroke-width="0.9">1</text>
<text transform="translate(120.5 539.5) scale(1.15 1)" font-family="Liberation Sans" font-size="18" font-style="normal" fill="#000" stroke="#000" stroke-width="0.9">≤</text>
<text transform="translate(137.5 543.4) scale(0.85 1)" font-family="Liberation Sans" font-size="21" font-style="normal" fill="#000" stroke="#000" stroke-width="0.9">9</text>
<text transform="translate(150 543.4) scale(0.8 1)" font-family="Liberation Sans" font-size="19.5" font-style="normal" letter-spacing="3.5" fill="#000" stroke="#000" stroke-width="0.9">mm</text>
<path d="M349.8 576.8 C380 596, 415 610, 445.8 614.2 L446.5 667.3 C432 666, 418 662, 404.6 658.1 C394 652, 388 644, 384 630 C380 618, 376 613, 369.6 611.8 L340.7 593.5 Z" stroke-width="2.8" fill="none" stroke-linejoin="round" stroke-linecap="round"/>
<path d="M477.8 614.2 C510 611, 545 598, 570.7 576.8 L581.4 592 C568 601, 556 606, 549.4 613.3 C542 622, 537 644, 528 654.5 C520 662, 508 665, 500.6 665.1 L477.8 667.3 Z" stroke-width="2.8" fill="none" stroke-linejoin="round" stroke-linecap="round"/>
<circle cx="418.4" cy="634.6" r="13.7" stroke-width="2.8" fill="none"/>
<line x1="399.4" y1="634.6" x2="437.4" y2="634.6" stroke-width="1.25" stroke-dasharray="10 2 3 2 10" stroke-linecap="butt"/>
<line x1="418.4" y1="615.6" x2="418.4" y2="653.6" stroke-width="1.25" stroke-dasharray="10 2 3 2 10" stroke-linecap="butt"/>
<circle cx="505.2" cy="634.6" r="13.7" stroke-width="2.8" fill="none"/>
<line x1="486.2" y1="634.6" x2="524.2" y2="634.6" stroke-width="1.25" stroke-dasharray="10 2 3 2 10" stroke-linecap="butt"/>
<line x1="505.2" y1="615.6" x2="505.2" y2="653.6" stroke-width="1.25" stroke-dasharray="10 2 3 2 10" stroke-linecap="butt"/>
<line x1="462.5" y1="599.6" x2="462.5" y2="681.9" stroke-width="1.25" stroke-dasharray="14 3 2.5 3" stroke-linecap="butt"/>
<line x1="478" y1="614.2" x2="593.6" y2="614.2" stroke-width="1.25" stroke-linecap="butt"/>
<line x1="478" y1="667.3" x2="593.6" y2="667.3" stroke-width="1.25" stroke-linecap="butt"/>
<line x1="586" y1="614.2" x2="586" y2="667.3" stroke-width="1.25" stroke-linecap="butt"/>
<path d="M586 614.2 L588.9 629.2 Q588.61 631.4 586 631.4 Q583.39 631.4 583.1 629.2 Z" fill="#000" stroke="#000" stroke-width="0.4" stroke-linejoin="round"/>
<path d="M586 667.3 L583.1 652.3 Q583.39 650.1 586 650.1 Q588.61 650.1 588.9 652.3 Z" fill="#000" stroke="#000" stroke-width="0.4" stroke-linejoin="round"/>
<text transform="translate(580.5 644) rotate(-90) scale(0.82 1)" font-family="Liberation Sans" font-size="22" font-style="italic" fill="#000" stroke="#000" stroke-width="0.9">a</text>
<line x1="404.6" y1="634.6" x2="404.6" y2="715.4" stroke-width="1.25" stroke-linecap="butt"/>
<line x1="432" y1="634.6" x2="432" y2="715.4" stroke-width="1.25" stroke-linecap="butt"/>
<line x1="374.2" y1="711.4" x2="465.6" y2="711.4" stroke-width="1.25" stroke-linecap="butt"/>
<path d="M404.6 711.4 L389.6 714.3 Q387.4 714.01 387.4 711.4 Q387.4 708.79 389.6 708.5 Z" fill="#000" stroke="#000" stroke-width="0.4" stroke-linejoin="round"/>
<path d="M432 711.4 L447 708.5 Q449.2 708.79 449.2 711.4 Q449.2 714.01 447 714.3 Z" fill="#000" stroke="#000" stroke-width="0.4" stroke-linejoin="round"/>
<text transform="translate(409.5 705) scale(0.9 1)" font-family="Liberation Sans" fill="#000" stroke="#000" stroke-width="1.0"><tspan font-size="23" font-style="italic">d</tspan><tspan font-size="16" dx="-1.0" dy="5.5">5</tspan></text>
<text transform="translate(396.5 541.5) scale(0.85 1)" font-family="Liberation Sans" font-size="21" font-style="italic" fill="#000" stroke="#000" stroke-width="0.9">d</text>
<text transform="translate(408.5 546.7) scale(0.85 1)" font-family="Liberation Sans" font-size="14" font-style="normal" fill="#000" stroke="#000" stroke-width="0.9">1</text>
<text transform="translate(423 539.5) scale(1.0 1)" font-family="Liberation Sans" font-size="18" font-style="normal" fill="#000" stroke="#000" stroke-width="0.9">&gt;</text>
<text transform="translate(445 541.5) scale(0.85 1)" font-family="Liberation Sans" font-size="21" font-style="normal" fill="#000" stroke="#000" stroke-width="0.9">9</text>
<text transform="translate(461.5 537.5) scale(1.1 1)" font-family="Liberation Sans" font-size="17" font-style="normal" fill="#000" stroke="#000" stroke-width="0.9">≤</text>
<text transform="translate(482.5 541.5) scale(0.82 1)" font-family="Liberation Sans" font-size="21" font-style="normal" fill="#000" stroke="#000" stroke-width="0.9">300</text>
<text transform="translate(517.5 541.5) scale(0.76 1)" font-family="Liberation Sans" font-size="19.5" font-style="normal" letter-spacing="2.2" fill="#000" stroke="#000" stroke-width="0.9">mm</text>
<path d="M657.5 588.2 C680 603, 705 609, 734.2 611.4 L734.9 664.9 C705 662, 668 655, 640.1 637.3 Z" stroke-width="2.8" fill="none" stroke-linejoin="round" stroke-linecap="round"/>
<path d="M767.4 610.3 C790 609, 815 602, 836.4 588.2" stroke-width="2.8" fill="none" stroke-linejoin="round" stroke-linecap="round"/>
<path d="M836.4 588.2 L863.3 632.5" stroke-width="1.25" fill="none" stroke-linejoin="round" stroke-linecap="round"/>
<path d="M863.3 632.5 C835 650, 800 660, 767.4 664.2 L767.4 610.3" stroke-width="2.8" fill="none" stroke-linejoin="round" stroke-linecap="round"/>
<circle cx="707.3" cy="635.4" r="13.6" stroke-width="2.8" fill="none"/>
<line x1="688.3" y1="635.4" x2="726.3" y2="635.4" stroke-width="1.25" stroke-dasharray="10 2 3 2 10" stroke-linecap="butt"/>
<line x1="707.3" y1="616.4" x2="707.3" y2="654.4" stroke-width="1.25" stroke-dasharray="10 2 3 2 10" stroke-linecap="butt"/>
<circle cx="795" cy="633.6" r="13.6" stroke-width="2.8" fill="none"/>
<line x1="776" y1="633.6" x2="814" y2="633.6" stroke-width="1.25" stroke-dasharray="10 2 3 2 10" stroke-linecap="butt"/>
<line x1="795" y1="614.6" x2="795" y2="652.6" stroke-width="1.25" stroke-dasharray="10 2 3 2 10" stroke-linecap="butt"/>
<line x1="750.8" y1="598.5" x2="750.8" y2="676" stroke-width="1.25" stroke-dasharray="14 3 2.5 3" stroke-linecap="butt"/>
<line x1="768" y1="610.3" x2="898" y2="610.3" stroke-width="1.25" stroke-linecap="butt"/>
<line x1="768" y1="664.2" x2="898" y2="664.2" stroke-width="1.25" stroke-linecap="butt"/>
<line x1="894.3" y1="610.3" x2="894.3" y2="664.2" stroke-width="1.25" stroke-linecap="butt"/>
<path d="M894.3 610.3 L897.2 625.3 Q896.91 627.5 894.3 627.5 Q891.69 627.5 891.4 625.3 Z" fill="#000" stroke="#000" stroke-width="0.4" stroke-linejoin="round"/>
<path d="M894.3 664.2 L891.4 649.2 Q891.69 647 894.3 647 Q896.91 647 897.2 649.2 Z" fill="#000" stroke="#000" stroke-width="0.4" stroke-linejoin="round"/>
<text transform="translate(890.5 642.5) rotate(-90) scale(0.82 1)" font-family="Liberation Sans" font-size="22" font-style="italic" fill="#000" stroke="#000" stroke-width="0.9">a</text>
<line x1="694.3" y1="635.4" x2="694.3" y2="712.9" stroke-width="1.25" stroke-linecap="butt"/>
<line x1="720.2" y1="635.4" x2="720.2" y2="712.9" stroke-width="1.25" stroke-linecap="butt"/>
<line x1="661.2" y1="711" x2="751.5" y2="711" stroke-width="1.25" stroke-linecap="butt"/>
<path d="M694.3 711 L679.3 713.9 Q677.1 713.61 677.1 711 Q677.1 708.39 679.3 708.1 Z" fill="#000" stroke="#000" stroke-width="0.4" stroke-linejoin="round"/>
<path d="M720.2 711 L735.2 708.1 Q737.4 708.39 737.4 711 Q737.4 713.61 735.2 713.9 Z" fill="#000" stroke="#000" stroke-width="0.4" stroke-linejoin="round"/>
<text transform="translate(698 701.7) scale(0.9 1)" font-family="Liberation Sans" fill="#000" stroke="#000" stroke-width="1.0"><tspan font-size="23" font-style="italic">d</tspan><tspan font-size="16" dx="-1.0" dy="5.5">5</tspan></text>
<text transform="translate(660 539.2) scale(0.85 1)" font-family="Liberation Sans" font-size="21" font-style="italic" fill="#000" stroke="#000" stroke-width="0.9">d</text>
<text transform="translate(671.5 543.7) scale(0.85 1)" font-family="Liberation Sans" font-size="14" font-style="normal" fill="#000" stroke="#000" stroke-width="0.9">1</text>
<text transform="translate(681.5 533) scale(1.1 1)" font-family="Liberation Sans" font-size="17" font-style="normal" fill="#000" stroke="#000" stroke-width="0.9">≥</text>
<text transform="translate(706.5 539.2) scale(0.8 1)" font-family="Liberation Sans" font-size="21" font-style="normal" fill="#000" stroke="#000" stroke-width="0.9">170</text>
<text transform="translate(735 539.2) scale(0.78 1)" font-family="Liberation Sans" font-size="19.5" font-style="normal" letter-spacing="2.2" fill="#000" stroke="#000" stroke-width="0.9">mm</text>
<text transform="translate(589.2 563.5)" font-family="Liberation Sans" font-size="19" font-style="normal" font-weight="normal" text-anchor="start" letter-spacing="0.85" fill="#000" stroke="#000" stroke-width="0.6">at manufacturer’s discretion</text>
<clipPath id="cpH1"><path d="M355.2 854.5 L464.4 854.5 L464.4 894.5 L450.5 908 L355.2 908 Z"/></clipPath>
<g clip-path="url(#cpH1)">
<line x1="239.4" y1="854.5" x2="292.9" y2="908" stroke-width="1.15" stroke-linecap="butt"/>
<line x1="257.4" y1="854.5" x2="310.9" y2="908" stroke-width="1.15" stroke-linecap="butt"/>
<line x1="275.4" y1="854.5" x2="328.9" y2="908" stroke-width="1.15" stroke-linecap="butt"/>
<line x1="293.4" y1="854.5" x2="346.9" y2="908" stroke-width="1.15" stroke-linecap="butt"/>
<line x1="311.4" y1="854.5" x2="364.9" y2="908" stroke-width="1.15" stroke-linecap="butt"/>
<line x1="329.4" y1="854.5" x2="382.9" y2="908" stroke-width="1.15" stroke-linecap="butt"/>
<line x1="347.4" y1="854.5" x2="400.9" y2="908" stroke-width="1.15" stroke-linecap="butt"/>
<line x1="365.4" y1="854.5" x2="418.9" y2="908" stroke-width="1.15" stroke-linecap="butt"/>
<line x1="383.4" y1="854.5" x2="436.9" y2="908" stroke-width="1.15" stroke-linecap="butt"/>
<line x1="401.4" y1="854.5" x2="454.9" y2="908" stroke-width="1.15" stroke-linecap="butt"/>
<line x1="419.4" y1="854.5" x2="472.9" y2="908" stroke-width="1.15" stroke-linecap="butt"/>
<line x1="437.4" y1="854.5" x2="490.9" y2="908" stroke-width="1.15" stroke-linecap="butt"/>
<line x1="455.4" y1="854.5" x2="508.9" y2="908" stroke-width="1.15" stroke-linecap="butt"/>
</g>
<clipPath id="cpH2"><path d="M355.9 1163 L452.2 1163 L464.8 1175 L464.8 1216 L355.9 1216 Z"/></clipPath>
<g clip-path="url(#cpH2)">
<line x1="286.1" y1="1163" x2="339.1" y2="1216" stroke-width="1.15" stroke-linecap="butt"/>
<line x1="304.6" y1="1163" x2="357.6" y2="1216" stroke-width="1.15" stroke-linecap="butt"/>
<line x1="323.1" y1="1163" x2="376.1" y2="1216" stroke-width="1.15" stroke-linecap="butt"/>
<line x1="341.6" y1="1163" x2="394.6" y2="1216" stroke-width="1.15" stroke-linecap="butt"/>
<line x1="360.1" y1="1163" x2="413.1" y2="1216" stroke-width="1.15" stroke-linecap="butt"/>
<line x1="378.6" y1="1163" x2="431.6" y2="1216" stroke-width="1.15" stroke-linecap="butt"/>
<line x1="397.1" y1="1163" x2="450.1" y2="1216" stroke-width="1.15" stroke-linecap="butt"/>
<line x1="415.6" y1="1163" x2="468.6" y2="1216" stroke-width="1.15" stroke-linecap="butt"/>
<line x1="434.1" y1="1163" x2="487.1" y2="1216" stroke-width="1.15" stroke-linecap="butt"/>
<line x1="452.6" y1="1163" x2="505.6" y2="1216" stroke-width="1.15" stroke-linecap="butt"/>
<line x1="471.1" y1="1163" x2="524.1" y2="1216" stroke-width="1.15" stroke-linecap="butt"/>
</g>
<line x1="243.6" y1="908.2" x2="450.5" y2="908.2" stroke-width="2.8" stroke-linecap="butt"/>
<line x1="244" y1="1163" x2="452.2" y2="1163" stroke-width="2.8" stroke-linecap="butt"/>
<path d="M450.5 908.2 L463 896 L464.4 894.5 L464.4 908.2 Z" stroke-width="2.2" fill="none" stroke-linejoin="miter" stroke-linecap="butt"/>
<path d="M452.2 1163 L464.8 1177.5 L464.8 1163 Z" stroke-width="2.2" fill="none" stroke-linejoin="miter" stroke-linecap="butt"/>
<line x1="464.4" y1="857.8" x2="464.4" y2="880" stroke-width="2.8" stroke-linecap="butt"/>
<line x1="464.8" y1="1192" x2="464.8" y2="1216" stroke-width="2.8" stroke-linecap="butt"/>
<clipPath id="cpR"><rect x="464.4" y="880" width="8.4" height="33.5"/></clipPath><g clip-path="url(#cpR)">
<line x1="462" y1="890" x2="475" y2="877" stroke-width="1.6" stroke-linecap="butt"/>
<line x1="462" y1="898" x2="475" y2="885" stroke-width="1.6" stroke-linecap="butt"/>
<line x1="462" y1="906" x2="475" y2="893" stroke-width="1.6" stroke-linecap="butt"/>
<line x1="462" y1="914" x2="475" y2="901" stroke-width="1.6" stroke-linecap="butt"/>
<line x1="462" y1="922" x2="475" y2="909" stroke-width="1.6" stroke-linecap="butt"/>
<line x1="462" y1="930" x2="475" y2="917" stroke-width="1.6" stroke-linecap="butt"/>
</g>
<rect x="464.4" y="880" width="8.4" height="33.5" stroke-width="2.8" fill="none"/>
<rect x="465.3" y="1156.2" width="8.3" height="35.8" stroke-width="2.8" fill="none"/>
<line x1="459.3" y1="913.5" x2="459.3" y2="1157.3" stroke-width="2.8" stroke-linecap="butt"/>
<line x1="459.3" y1="913.5" x2="465" y2="913.5" stroke-width="2.8" stroke-linecap="butt"/>
<line x1="459.3" y1="1156.2" x2="466" y2="1156.2" stroke-width="2.8" stroke-linecap="butt"/>
<line x1="464.8" y1="917" x2="464.8" y2="1154" stroke-width="1.5" stroke-dasharray="6 3.5" stroke-linecap="butt"/>
<line x1="472.8" y1="913.5" x2="472.8" y2="1156.2" stroke-width="2.8" stroke-linecap="butt"/>
<line x1="472.8" y1="908.2" x2="494.8" y2="908.2" stroke-width="2.8" stroke-linecap="butt"/>
<line x1="494.8" y1="908.2" x2="494.8" y2="1163" stroke-width="2.8" stroke-linecap="butt"/>
<line x1="473.6" y1="1163" x2="494.8" y2="1163" stroke-width="2.8" stroke-linecap="butt"/>
<path d="M265.4 908.2 C258 925, 244 950, 244.7 975.8 C245.5 1000, 258 1012, 265.3 1025.3" stroke-width="1.1" fill="none" stroke-linejoin="round" stroke-linecap="round"/>
<path d="M265.3 1025.3 C255 1045, 246 1075, 246.7 1104 C247 1130, 252 1148, 259.3 1163 L266 1163 C274 1148, 282 1125, 283.3 1093.3 C284 1065, 276 1045, 265.3 1025.3 Z" stroke-width="1.1" fill="none" stroke-linejoin="round" stroke-linecap="round"/>
<clipPath id="cpL"><path d="M265.3 1025.3 C255 1045, 246 1075, 246.7 1104 C247 1130, 252 1148, 259.3 1163 L266 1163 C274 1148, 282 1125, 283.3 1093.3 C284 1065, 276 1045, 265.3 1025.3 Z"/></clipPath><g clip-path="url(#cpL)">
<line x1="240" y1="1045" x2="290" y2="995" stroke-width="1.1" stroke-linecap="butt"/>
<line x1="240" y1="1058.3" x2="290" y2="1008.3" stroke-width="1.1" stroke-linecap="butt"/>
<line x1="240" y1="1071.6" x2="290" y2="1021.6" stroke-width="1.1" stroke-linecap="butt"/>
<line x1="240" y1="1084.9" x2="290" y2="1034.9" stroke-width="1.1" stroke-linecap="butt"/>
<line x1="240" y1="1098.2" x2="290" y2="1048.2" stroke-width="1.1" stroke-linecap="butt"/>
<line x1="240" y1="1111.5" x2="290" y2="1061.5" stroke-width="1.1" stroke-linecap="butt"/>
<line x1="240" y1="1124.8" x2="290" y2="1074.8" stroke-width="1.1" stroke-linecap="butt"/>
<line x1="240" y1="1138.1" x2="290" y2="1088.1" stroke-width="1.1" stroke-linecap="butt"/>
<line x1="240" y1="1151.4" x2="290" y2="1101.4" stroke-width="1.1" stroke-linecap="butt"/>
<line x1="240" y1="1164.7" x2="290" y2="1114.7" stroke-width="1.1" stroke-linecap="butt"/>
<line x1="240" y1="1178" x2="290" y2="1128" stroke-width="1.1" stroke-linecap="butt"/>
<line x1="240" y1="1191.3" x2="290" y2="1141.3" stroke-width="1.1" stroke-linecap="butt"/>
<line x1="240" y1="1204.6" x2="290" y2="1154.6" stroke-width="1.1" stroke-linecap="butt"/>
</g>
<line x1="249" y1="1036" x2="504.4" y2="1036" stroke-width="1.25" stroke-dasharray="28 4 3 4" stroke-linecap="butt"/>
<line x1="290.3" y1="908.2" x2="290.3" y2="1163" stroke-width="1.25" stroke-linecap="butt"/>
<path d="M290.3 908.2 L293.2 923.2 Q292.91 925.4 290.3 925.4 Q287.69 925.4 287.4 923.2 Z" fill="#000" stroke="#000" stroke-width="0.4" stroke-linejoin="round"/>
<path d="M290.3 1163 L287.4 1148 Q287.69 1145.8 290.3 1145.8 Q292.91 1145.8 293.2 1148 Z" fill="#000" stroke="#000" stroke-width="0.4" stroke-linejoin="round"/>
<path d="M281.3 1163 L300 1163 L290.3 1172.5 Z" fill="#000" stroke="#000" stroke-width="1"/>
<line x1="290.3" y1="1172" x2="290.3" y2="1195.6" stroke-width="1.25" stroke-linecap="butt"/>
<rect x="274.7" y="1195.6" width="29.4" height="28.9" stroke-width="2.0" fill="none"/>
<text transform="translate(284 1217.3) scale(0.85 1)" font-family="Liberation Sans" font-size="19.5" font-style="normal" fill="#000" stroke="#000" stroke-width="0.9">A</text>
<line x1="472.8" y1="894.7" x2="566.2" y2="894.7" stroke-width="1.25" stroke-linecap="butt"/>
<line x1="494.8" y1="908.2" x2="567" y2="908.2" stroke-width="1.25" stroke-linecap="butt"/>
<line x1="472.8" y1="914.8" x2="535" y2="914.8" stroke-width="1.25" stroke-linecap="butt"/>
<line x1="473.6" y1="1157.3" x2="536" y2="1157.3" stroke-width="1.25" stroke-linecap="butt"/>
<line x1="494.8" y1="1163.1" x2="567.6" y2="1163.1" stroke-width="1.25" stroke-linecap="butt"/>
<line x1="561.9" y1="861.3" x2="561.9" y2="894.7" stroke-width="1.25" stroke-linecap="butt"/>
<path d="M561.9 894.7 L559 879.7 Q559.29 877.5 561.9 877.5 Q564.51 877.5 564.8 879.7 Z" fill="#000" stroke="#000" stroke-width="0.4" stroke-linejoin="round"/>
<line x1="561.9" y1="908.2" x2="561.9" y2="1163.1" stroke-width="1.25" stroke-linecap="butt"/>
<path d="M561.9 908.2 L564.8 923.2 Q564.51 925.4 561.9 925.4 Q559.29 925.4 559 923.2 Z" fill="#000" stroke="#000" stroke-width="0.4" stroke-linejoin="round"/>
<path d="M561.9 1163.1 L559 1148.1 Q559.29 1145.9 561.9 1145.9 Q564.51 1145.9 564.8 1148.1 Z" fill="#000" stroke="#000" stroke-width="0.4" stroke-linejoin="round"/>
<text transform="translate(552.5 890.5) rotate(-90) scale(0.82 1)" font-family="Liberation Sans" font-size="20" font-style="italic" fill="#000" stroke="#000" stroke-width="0.9">g</text>
<text transform="translate(555.6 1050) rotate(-90) scale(0.9 1)" font-family="Liberation Sans" fill="#000" stroke="#000" stroke-width="1.0"><tspan font-size="20" font-style="italic">d</tspan><tspan font-size="14" dx="-1.0" dy="4">1</tspan></text>
<line x1="529.7" y1="914.8" x2="529.7" y2="1198.6" stroke-width="1.25" stroke-linecap="butt"/>
<path d="M529.7 914.8 L532.6 929.8 Q532.31 932 529.7 932 Q527.09 932 526.8 929.8 Z" fill="#000" stroke="#000" stroke-width="0.4" stroke-linejoin="round"/>
<path d="M529.7 1157.3 L526.8 1142.3 Q527.09 1140.1 529.7 1140.1 Q532.31 1140.1 532.6 1142.3 Z" fill="#000" stroke="#000" stroke-width="0.4" stroke-linejoin="round"/>
<path d="M529.7 1163.1 L532.6 1178.1 Q532.31 1180.3 529.7 1180.3 Q527.09 1180.3 526.8 1178.1 Z" fill="#000" stroke="#000" stroke-width="0.4" stroke-linejoin="round"/>
<text transform="translate(526 1050) rotate(-90) scale(0.9 1)" font-family="Liberation Sans" fill="#000" stroke="#000" stroke-width="1.0"><tspan font-size="20" font-style="italic">d</tspan><tspan font-size="14" dx="-1.0" dy="2.5">2</tspan></text>
<text transform="translate(522.5 1192.5) rotate(-90) scale(0.9 1)" font-family="Liberation Sans" font-size="19" letter-spacing="1.8" fill="#000" stroke="#000" stroke-width="0.8">(<tspan font-style="italic">t</tspan>)</text>
<rect x="555" y="785.5" width="115.9" height="29.2" stroke-width="2.0" fill="none"/>
<line x1="584" y1="785.5" x2="584" y2="814.7" stroke-width="2.0" stroke-linecap="butt"/>
<line x1="641.2" y1="785.5" x2="641.2" y2="814.7" stroke-width="2.0" stroke-linecap="butt"/>
<line x1="554.4" y1="798.9" x2="513.1" y2="798.9" stroke-width="1.25" stroke-linecap="butt"/>
<line x1="513.1" y1="798.9" x2="513.1" y2="914.8" stroke-width="1.25" stroke-linecap="butt"/>
<path d="M513.1 914.8 L510.2 899.8 Q510.49 897.6 513.1 897.6 Q515.71 897.6 516 899.8 Z" fill="#000" stroke="#000" stroke-width="0.4" stroke-linejoin="round"/>
<line x1="560.6" y1="810.4" x2="581.1" y2="792" stroke-width="1.3" stroke-linecap="butt"/>
<path d="M581.1 792 L574.58 801.21 Q572.78 802.49 571.28 800.82 Q569.77 799.14 571.24 797.49 Z" fill="#000" stroke="#000" stroke-width="0.4" stroke-linejoin="round"/>
<text transform="translate(590.5 807.6) scale(0.8 1)" font-family="Liberation Sans" font-size="19.5" font-style="normal" fill="#000" stroke="#000" stroke-width="0.9">0,15</text>
<text transform="translate(626.5 807.6) scale(0.9 1)" font-family="Liberation Sans" font-size="19.5" font-style="italic" fill="#000" stroke="#000" stroke-width="0.9">t</text>
<text transform="translate(650.8 807.6) scale(0.85 1)" font-family="Liberation Sans" font-size="19.5" font-style="normal" fill="#000" stroke="#000" stroke-width="0.9">A</text>
<line x1="422.9" y1="1095.7" x2="520.8" y2="1095.7" stroke-width="1.25" stroke-linecap="butt"/>
<path d="M459.3 1095.7 L444.3 1098.6 Q442.1 1098.31 442.1 1095.7 Q442.1 1093.09 444.3 1092.8 Z" fill="#000" stroke="#000" stroke-width="0.4" stroke-linejoin="round"/>
<path d="M494.8 1095.7 L509.8 1092.8 Q512 1093.09 512 1095.7 Q512 1098.31 509.8 1098.6 Z" fill="#000" stroke="#000" stroke-width="0.4" stroke-linejoin="round"/>
<circle cx="472.8" cy="1095.7" r="1.3" stroke-width="0" fill="#000"/>
<text transform="translate(428 1093) scale(0.82 1)" font-family="Liberation Sans" font-size="18" font-style="italic" fill="#000" stroke="#000" stroke-width="0.9">m</text>
<text transform="translate(477.5 1093.3) scale(0.95 1)" font-family="Liberation Sans" font-size="19" font-style="italic" fill="#000" stroke="#000" stroke-width="0.9">n</text>
<line x1="473.8" y1="1192" x2="473.8" y2="1310.7" stroke-width="1.25" stroke-linecap="butt"/>
<rect x="322.6" y="1235.5" width="113.6" height="28" stroke-width="2.0" fill="none"/>
<line x1="351.3" y1="1235.5" x2="351.3" y2="1263.5" stroke-width="2.0" stroke-linecap="butt"/>
<line x1="407.8" y1="1235.5" x2="407.8" y2="1263.5" stroke-width="2.0" stroke-linecap="butt"/>
<line x1="436.5" y1="1249.9" x2="473.8" y2="1249.9" stroke-width="1.25" stroke-linecap="butt"/>
<path d="M473.8 1249.9 L461.8 1251.9 Q459.6 1251.7 459.6 1249.9 Q459.6 1248.1 461.8 1247.9 Z" fill="#000" stroke="#000" stroke-width="0.4" stroke-linejoin="round"/>
<text transform="translate(418.3 1256.7) scale(0.85 1)" font-family="Liberation Sans" font-size="19.5" font-style="normal" fill="#000" stroke="#000" stroke-width="0.9">A</text>
<rect x="322.6" y="1286.2" width="113.6" height="29.8" stroke-width="2.0" fill="none"/>
<line x1="351.3" y1="1286.2" x2="351.3" y2="1316" stroke-width="2.0" stroke-linecap="butt"/>
<line x1="407.8" y1="1286.2" x2="407.8" y2="1316" stroke-width="2.0" stroke-linecap="butt"/>
<line x1="436.5" y1="1302.3" x2="473.8" y2="1302.3" stroke-width="1.25" stroke-linecap="butt"/>
<path d="M473.8 1302.3 L461.8 1304.3 Q459.6 1304.1 459.6 1302.3 Q459.6 1300.5 461.8 1300.3 Z" fill="#000" stroke="#000" stroke-width="0.4" stroke-linejoin="round"/>
<text transform="translate(418.3 1309.2) scale(0.85 1)" font-family="Liberation Sans" font-size="19.5" font-style="normal" fill="#000" stroke="#000" stroke-width="0.9">A</text>
<line x1="330.4" y1="1254.2" x2="345.5" y2="1254.2" stroke-width="2.6" stroke-linecap="butt"/>
<line x1="337.9" y1="1241.8" x2="337.9" y2="1254.2" stroke-width="2.4" stroke-linecap="butt"/>
<text transform="translate(358 1256.8) scale(0.8 1)" font-family="Liberation Sans" font-size="19.5" font-style="normal" fill="#000" stroke="#000" stroke-width="0.9">0,02</text>
<text transform="translate(394.5 1256.8) scale(0.9 1)" font-family="Liberation Sans" font-size="19.5" font-style="italic" fill="#000" stroke="#000" stroke-width="0.9">t</text>
<line x1="331.1" y1="1309.7" x2="348.7" y2="1293.3" stroke-width="1.3" stroke-linecap="butt"/>
<path d="M348.7 1293.3 L342.36 1302.63 Q340.58 1303.94 339.04 1302.3 Q337.51 1300.65 338.95 1298.97 Z" fill="#000" stroke="#000" stroke-width="0.4" stroke-linejoin="round"/>
<text transform="translate(367.2 1309) scale(0.8 1)" font-family="Liberation Sans" font-size="19.5" font-style="normal" fill="#000" stroke="#000" stroke-width="0.9">0,1</text>
<text transform="translate(394.5 1309) scale(0.9 1)" font-family="Liberation Sans" font-size="19.5" font-style="italic" fill="#000" stroke="#000" stroke-width="0.9">t</text>
</svg>
</body></html>
